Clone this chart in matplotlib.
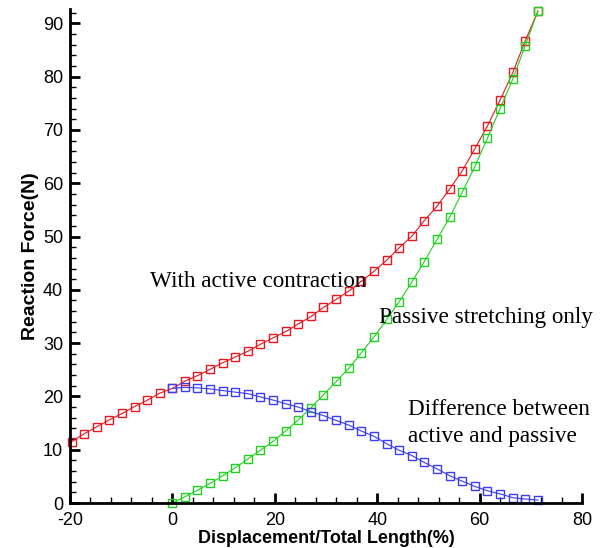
import matplotlib
matplotlib.use("Agg")
import matplotlib.pyplot as plt
from matplotlib.ticker import MultipleLocator

plt.rcParams['axes.unicode_minus'] = False

# Displacement / total length (%) at each sample
x_active = [-19.7, -17.2, -14.8, -12.3, -9.8, -7.4, -4.9, -2.5,
            0.0, 2.5, 4.9, 7.4, 9.8, 12.3, 14.8, 17.2, 19.7, 22.2, 24.6,
            27.1, 29.5, 32.0, 34.5, 36.9, 39.4, 41.9, 44.3, 46.8, 49.2,
            51.7, 54.2, 56.6, 59.1, 61.5, 64.0, 66.5, 68.9, 71.4]
x_pass = x_active[8:]

# Reaction force (N)
active = [11.5, 13.0, 14.3, 15.6, 16.8, 18.1, 19.3, 20.6,
          21.5, 22.9, 23.9, 25.1, 26.3, 27.4, 28.5, 29.8, 31.0, 32.2, 33.6,
          35.0, 36.7, 38.2, 39.8, 41.6, 43.5, 45.6, 47.9, 50.1, 53.0,
          55.7, 59.0, 62.3, 66.5, 70.7, 75.6, 80.8, 86.7, 92.3]
passive = [0.0, 1.2, 2.4, 3.7, 5.1, 6.6, 8.3, 9.9, 11.6, 13.6, 15.6,
           17.9, 20.3, 22.8, 25.3, 28.2, 31.2, 34.5, 37.8, 41.5,
           45.3, 49.5, 53.7, 58.3, 63.2, 68.4, 74.0, 79.6, 85.8, 92.3]
difference = [21.5, 21.7, 21.6, 21.4, 21.1, 20.8, 20.5, 19.9, 19.3, 18.6, 18.0,
              17.1, 16.4, 15.5, 14.6, 13.5, 12.5, 11.1, 9.9, 8.9,
              7.6, 6.4, 5.1, 4.1, 3.1, 2.3, 1.7, 1.0, 0.75, 0.55]

x_ticks = [-20, 0, 20, 40, 60, 80]
y_ticks = [0, 10, 20, 30, 40, 50, 60, 70, 80, 90]

fig = plt.figure(figsize=(6.06, 5.48), dpi=100)
ax = fig.add_axes([70/606, 1-503/548, (582-70)/606, (503-9)/548])

red = '#e4181e'
green = '#1ed21e'
blue = '#3c3cf0'
common = dict(marker='s', markersize=5.2, markerfacecolor='none',
              markeredgewidth=1.0, linewidth=0.8, clip_on=False)
ax.plot(x_active, active, color=red, **common)
ax.plot(x_pass, passive, color=green, **common)
ax.plot(x_pass, difference, color=blue, **common)

ax.set_xlim(-20, 80)
ax.set_ylim(0, 92.7)
ax.set_xticks(x_ticks)
ax.set_yticks(y_ticks)
ax.xaxis.set_minor_locator(MultipleLocator(4))
ax.yaxis.set_minor_locator(MultipleLocator(2))

for s in ['top', 'right']:
    ax.spines[s].set_visible(False)
for s in ['left', 'bottom']:
    ax.spines[s].set_linewidth(2.0)

ax.tick_params(which='major', direction='in', length=7, width=2,
               labelsize=13)
ax.tick_params(axis='x', which='major', pad=6.5)
ax.tick_params(axis='y', which='major', pad=5)
ax.tick_params(which='minor', direction='in', length=4, width=1)
for lab in ax.get_xticklabels() + ax.get_yticklabels():
    lab.set_fontfamily('Liberation Sans')

ax.set_xlabel('Displacement/Total Length(%)', fontsize=13, fontweight='bold',
              family='Liberation Sans', labelpad=1)
ax.set_ylabel('Reaction Force(N)', fontsize=14, fontweight='bold',
              family='Liberation Sans', labelpad=3)

tkw = dict(fontsize=16.7, family='Liberation Serif', va='baseline', ha='left')
ax.text(-4.3, 40.5, 'With active contraction', **tkw)
ax.text(40.3, 33.8, 'Passive stretching only', **tkw)
ax.text(46.0, 16.5, 'Difference between', **tkw)
ax.text(46.0, 11.5, 'active and passive', **tkw)

fig.savefig('out.png', dpi=100)
